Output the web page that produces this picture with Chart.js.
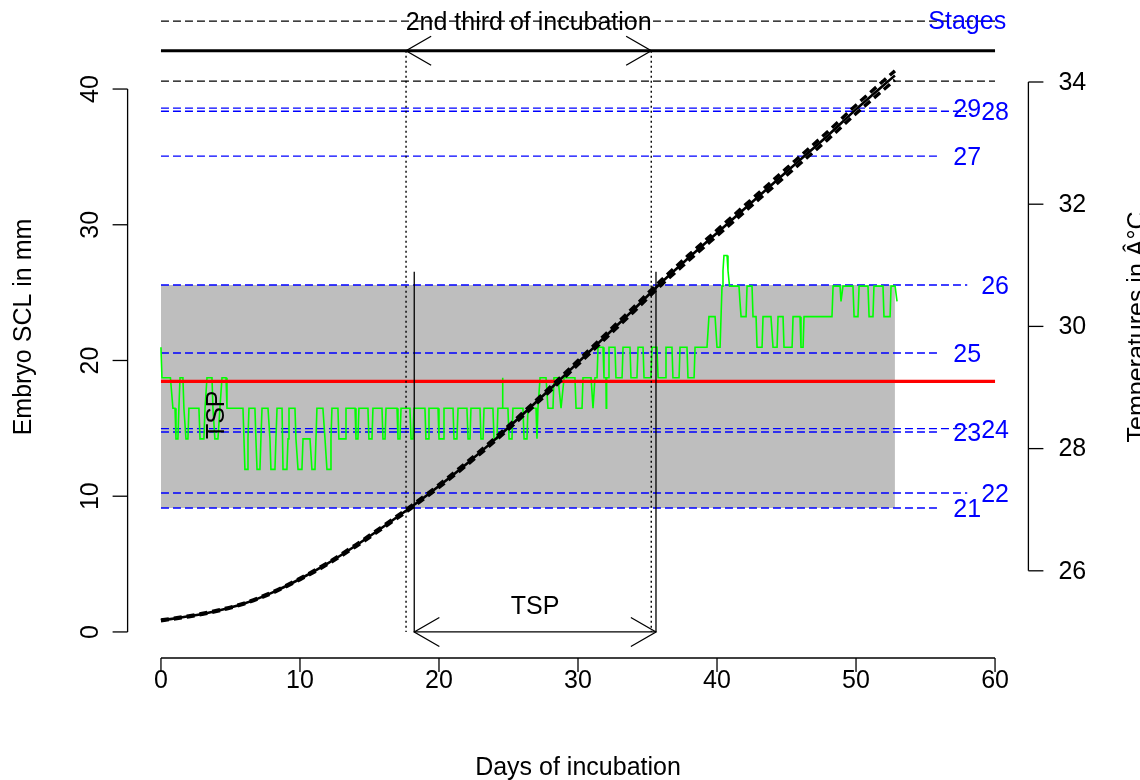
<!DOCTYPE html>
<html><head><meta charset="utf-8">
<script src="https://cdn.jsdelivr.net/npm/chart.js@4.4.0/dist/chart.umd.min.js"></script>
<style>html,body{margin:0;padding:0;background:#fff;}canvas{display:block;}</style>
</head><body>
<canvas id="c" width="1140" height="780" style="width:1140px;height:780px"></canvas>
<script>
// ---------- data ----------
const xTicks = [0, 10, 20, 30, 40, 50, 60];
const sclTicks = [0, 10, 20, 30, 40];
const tempTicks = [26, 28, 30, 32, 34];

const growthDays  = [0, 2, 4, 6, 8, 10, 12, 14, 16, 18, 20, 22, 24, 26, 28, 30, 32, 34, 36, 38, 40, 42, 44, 46, 48, 50, 52, 52.8];
const growthSCL   = [0.85, 1.15, 1.55, 2.1, 2.9, 3.9, 5.05, 6.35, 7.75, 9.2, 10.75, 12.4, 14.15, 16.0, 17.9, 19.85, 21.8, 23.75, 25.75, 27.6, 29.4, 31.2, 33.0, 34.8, 36.6, 38.5, 40.3, 41.0];
const growthUpper = [0.88, 1.18, 1.58, 2.13, 2.94, 3.95, 5.11, 6.42, 7.83, 9.29, 10.85, 12.51, 14.27, 16.13, 18.04, 20.0, 21.96, 23.92, 25.93, 27.8, 29.61, 31.43, 33.25, 35.07, 36.89, 38.81, 40.63, 41.34];
const growthLower = [0.82, 1.12, 1.52, 2.07, 2.86, 3.85, 4.99, 6.28, 7.67, 9.11, 10.65, 12.29, 14.03, 15.87, 17.76, 19.7, 21.64, 23.58, 25.57, 27.4, 29.19, 30.97, 32.75, 34.53, 36.31, 38.19, 39.97, 40.66];

const tempDays = [
 0.00,0.07,0.68,0.86,1.01,1.08,1.22,1.29,1.37,1.58,1.65,1.80,1.94,2.01,2.73,2.81,3.09,3.17,3.31,3.67,3.74,3.88,4.10,4.24,4.39,4.68,4.75,
 5.90,5.97,6.04,6.19,6.26,6.33,6.76,6.83,6.91,7.12,7.19,7.27,7.70,7.84,7.91,8.20,8.27,8.35,8.71,8.78,9.06,9.14,9.21,9.64,9.71,9.86,
 10.14,10.22,10.72,10.86,11.08,11.15,11.22,11.65,11.80,11.94,12.16,12.23,12.30,12.73,12.80,
 13.24,13.31,13.96,14.03,14.17,14.24,14.89,14.96,15.18,15.25,15.90,15.97,16.12,16.19,16.98,17.05,17.19,17.27,17.91,17.99,18.13,18.20,
 18.99,19.06,19.21,19.28,19.93,20.00,20.29,20.36,21.01,21.08,21.29,21.37,22.01,22.09,22.23,22.30,22.95,23.02,23.17,23.24,23.88,23.96,
 24.17,24.24,24.54,24.57,24.60,24.96,25.04,25.25,25.32,26.04,26.12,26.33,26.40,
 26.98,27.05,27.12,27.27,27.70,27.84,28.20,28.27,28.56,28.78,29.00,29.78,29.86,30.29,30.36,30.94,31.08,31.22,31.37,31.44,31.80,31.87,
 32.01,32.03,32.06,32.16,32.23,
 32.66,32.73,33.17,33.24,33.74,33.81,34.24,34.32,34.68,34.75,35.25,35.32,35.68,35.76,36.26,36.33,36.76,36.83,37.27,37.34,37.84,37.91,
 38.35,38.42,39.28,39.42,
 39.86,40.00,40.22,40.36,40.43,40.50,40.72,40.79,40.90,41.58,41.65,41.73,42.09,42.16,42.52,42.59,42.81,42.88,43.24,43.31,43.88,44.03,
 44.32,44.39,44.75,44.82,45.40,45.47,45.97,46.04,46.19,46.26,48.27,48.35,48.85,48.92,48.99,49.06,49.78,49.86,50.14,50.22,50.86,50.94,
 51.22,51.29,51.94,52.01,52.45,52.52,52.81,52.95];
const tempValues = [
 29.66,29.16,29.16,28.66,28.66,28.16,28.16,28.66,29.16,29.16,28.66,28.16,28.16,28.66,28.66,28.16,28.16,28.66,29.16,29.16,28.66,28.16,28.16,28.66,29.16,29.16,28.66,
 28.66,28.16,27.66,27.66,28.16,28.66,28.66,28.16,27.66,27.66,28.16,28.66,28.66,28.16,27.66,27.66,28.16,28.66,28.66,27.66,27.66,28.16,28.66,28.66,28.16,27.66,
 27.66,28.16,28.16,27.66,27.66,28.16,28.66,28.66,28.16,27.66,27.66,28.16,28.66,28.66,28.16,
 28.16,28.66,28.66,28.16,28.16,28.66,28.66,28.16,28.16,28.66,28.66,28.16,28.16,28.66,28.66,28.16,28.16,28.66,28.66,28.16,28.16,28.66,
 28.66,28.16,28.16,28.66,28.66,28.16,28.16,28.66,28.66,28.16,28.16,28.66,28.66,28.16,28.16,28.66,28.66,28.16,28.16,28.66,28.66,28.16,
 28.16,28.66,28.66,29.16,28.66,28.66,28.16,28.16,28.66,28.66,28.16,28.16,28.66,
 28.66,28.16,28.66,29.16,29.16,28.66,28.66,29.16,29.16,28.66,29.16,29.16,28.66,28.66,29.16,29.16,28.66,29.16,29.16,29.66,29.66,29.16,
 29.16,28.66,29.16,29.16,29.66,
 29.66,29.16,29.16,29.66,29.66,29.16,29.16,29.66,29.66,29.16,29.16,29.66,29.66,29.16,29.16,29.66,29.66,29.16,29.16,29.66,29.66,29.16,
 29.16,29.66,29.66,30.16,
 30.16,29.66,29.66,30.66,30.91,31.16,31.16,30.91,30.66,30.66,30.41,30.16,30.16,30.66,30.66,30.16,30.16,29.66,29.66,30.16,30.16,29.66,
 29.66,30.16,30.16,29.66,29.66,30.16,30.16,29.66,29.66,30.16,30.16,30.66,30.66,30.41,30.41,30.66,30.66,30.16,30.16,30.66,30.66,30.16,
 30.16,30.66,30.66,30.16,30.16,30.66,30.66,30.41];

const stageNames = ['21', '22', '23', '24', '25', '26', '27', '28', '29'];
const stageSCL   = [9.13, 10.24, 14.73, 14.98, 20.55, 25.56, 35.06, 38.36, 38.59];

const pivotalTemp = 29.1;
const incubationEnd = 52.8;
const bandSCL = [9.13, 25.56];
const secondThird = [17.63, 35.27];
const tspWindow = [18.22, 35.61];
const tspTopSCL = 26.54;
const stagesHeaderSCL = 45.0;
const incubationBarSCL = 42.82;
const hatchSCL = 40.59;

// ---------- build ----------
const pts = (xs, ys) => xs.map((x, i) => ({x: x, y: ys[i]}));
const seg = (x0, y0, x1, y1) => [{x: x0, y: y0}, {x: x1, y: y1}];
const base = {pointRadius: 0, pointHoverRadius: 0, tension: 0, fill: false, yAxisID: 'y'};
const ds = [];
ds.push(Object.assign({}, base, {data: seg(0, bandSCL[1], incubationEnd, bandSCL[1]), borderWidth: 0, borderColor: 'rgba(0,0,0,0)', backgroundColor: '#BEBEBE', fill: {value: bandSCL[0]}, order: 100}));
stageNames.forEach((s, i) => {
  const odd = parseInt(s, 10) % 2 === 1;
  ds.push(Object.assign({}, base, {data: seg(0, stageSCL[i], odd ? 56 : 58, stageSCL[i]), borderColor: '#0000FF', borderWidth: 1.4, borderDash: [8, 4], order: 90}));
});
ds.push(Object.assign({}, base, {data: seg(0, stagesHeaderSCL, 60, stagesHeaderSCL), borderColor: '#000', borderWidth: 1.3, borderDash: [8, 4], order: 85}));
ds.push(Object.assign({}, base, {data: seg(0, incubationBarSCL, 60, incubationBarSCL), borderColor: '#000', borderWidth: 2.8, order: 85}));
ds.push(Object.assign({}, base, {data: seg(0, hatchSCL, 60, hatchSCL), borderColor: '#000', borderWidth: 1.3, borderDash: [8, 4], order: 85}));
ds.push(Object.assign({}, base, {data: pts(tempDays, tempValues), yAxisID: 'y2', borderColor: '#00FF00', borderWidth: 1.6, order: 60}));
ds.push(Object.assign({}, base, {data: seg(0, pivotalTemp, 60, pivotalTemp), yAxisID: 'y2', borderColor: '#FF0000', borderWidth: 3.4, order: 50}));
secondThird.forEach(d => ds.push(Object.assign({}, base, {data: seg(d, incubationBarSCL, d, 0), borderColor: '#000', borderWidth: 1.4, borderDash: [2, 3], order: 40})));
tspWindow.forEach(d => ds.push(Object.assign({}, base, {data: seg(d, tspTopSCL, d, 0), borderColor: '#000', borderWidth: 1.3, order: 40})));
ds.push(Object.assign({}, base, {data: seg(tspWindow[0], 0, tspWindow[1], 0), borderColor: '#000', borderWidth: 1.3, order: 40}));
ds.push(Object.assign({}, base, {data: pts(growthDays, growthUpper), borderColor: '#000', borderWidth: 3.4, borderDash: [8, 5], cubicInterpolationMode: 'monotone', order: 12}));
ds.push(Object.assign({}, base, {data: pts(growthDays, growthLower), borderColor: '#000', borderWidth: 3.4, borderDash: [8, 5], cubicInterpolationMode: 'monotone', order: 11}));
ds.push(Object.assign({}, base, {data: pts(growthDays, growthSCL), borderColor: '#000', borderWidth: 2.6, cubicInterpolationMode: 'monotone', order: 10}));

const FONT = '25px "Liberation Sans", Arial, sans-serif';

function txt(ctx, s, x, y, opt) {
  opt = opt || {};
  ctx.save();
  ctx.translate(x, y);
  if (opt.rot) ctx.rotate(opt.rot);
  ctx.font = FONT;
  ctx.fillStyle = opt.color || '#000';
  ctx.textAlign = opt.align || 'center';
  ctx.textBaseline = opt.base || 'middle';
  ctx.fillText(s, 0, 0);
  ctx.restore();
}
function head(ctx, tx, ty, dir) {
  const L = 29, a = Math.PI / 6;
  ctx.beginPath();
  ctx.moveTo(tx + dir * L * Math.cos(a), ty - L * Math.sin(a));
  ctx.lineTo(tx, ty);
  ctx.lineTo(tx + dir * L * Math.cos(a), ty + L * Math.sin(a));
  ctx.stroke();
}

const rPlugin = {
  id: 'rDecor',
  afterDraw(chart) {
    const ctx = chart.ctx, xs = chart.scales.x, ys = chart.scales.y, y2 = chart.scales.y2;
    const X = v => xs.getPixelForValue(v), Y = v => ys.getPixelForValue(v), Y2 = v => y2.getPixelForValue(v);
    ctx.save();
    ctx.strokeStyle = '#000'; ctx.lineWidth = 1.3; ctx.setLineDash([]);
    // x axis
    const ay = ys.bottom;
    ctx.beginPath(); ctx.moveTo(X(xTicks[0]), ay); ctx.lineTo(X(xTicks[xTicks.length - 1]), ay); ctx.stroke();
    xTicks.forEach(t => { ctx.beginPath(); ctx.moveTo(X(t), ay); ctx.lineTo(X(t), ay + 14); ctx.stroke(); txt(ctx, String(t), X(t), ay + 30, {base: 'alphabetic'}); });
    txt(ctx, 'Days of incubation', (xs.left + xs.right) / 2, 775, {base: 'alphabetic'});
    // left axis
    const lx = xs.left;
    ctx.beginPath(); ctx.moveTo(lx, Y(sclTicks[0])); ctx.lineTo(lx, Y(sclTicks[sclTicks.length - 1])); ctx.stroke();
    sclTicks.forEach(t => { ctx.beginPath(); ctx.moveTo(lx, Y(t)); ctx.lineTo(lx - 15, Y(t)); ctx.stroke(); txt(ctx, String(t), lx - 30, Y(t), {rot: -Math.PI / 2, base: 'alphabetic'}); });
    txt(ctx, 'Embryo SCL in mm', 31, 327, {rot: -Math.PI / 2, base: 'alphabetic'});
    // right axis
    const rx = xs.right;
    ctx.beginPath(); ctx.moveTo(rx, Y2(tempTicks[0])); ctx.lineTo(rx, Y2(tempTicks[tempTicks.length - 1])); ctx.stroke();
    tempTicks.forEach(t => { ctx.beginPath(); ctx.moveTo(rx, Y2(t)); ctx.lineTo(rx + 15, Y2(t)); ctx.stroke(); txt(ctx, String(t), rx + 30, Y2(t) + 1, {align: 'left'}); });
    txt(ctx, 'Temperatures in Â°C', 1145, 327, {rot: -Math.PI / 2, base: 'alphabetic'});
    // arrows
    const by = Y(incubationBarSCL);
    head(ctx, X(secondThird[0]), by, 1); head(ctx, X(secondThird[1]), by, -1);
    const ty = Y(0);
    head(ctx, X(tspWindow[0]), ty, 1); head(ctx, X(tspWindow[1]), ty, -1);
    // texts
    txt(ctx, '2nd third of incubation', X((secondThird[0] + secondThird[1]) / 2), Y(44.86));
    txt(ctx, 'Stages', X(58), Y(stagesHeaderSCL) + 1, {color: '#0000FF'});
    stageNames.forEach((s, i) => {
      const odd = parseInt(s, 10) % 2 === 1;
      txt(ctx, s, X(odd ? 58 : 60), Y(stageSCL[i]) + 2, {color: '#0000FF'});
    });
    txt(ctx, 'TSP', X((tspWindow[0] + tspWindow[1]) / 2), Y(1.86));
    txt(ctx, 'TSP', X(4.03), Y(16.0), {rot: -Math.PI / 2});
    ctx.restore();
  }
};

new Chart(document.getElementById('c').getContext('2d'), {
  type: 'line',
  data: {datasets: ds},
  options: {
    responsive: false, animation: false, devicePixelRatio: 1,
    layout: {padding: {left: 127.6, right: 111.6, top: 0, bottom: 122}},
    plugins: {legend: {display: false}, tooltip: {enabled: false}},
    scales: {
      x: {type: 'linear', min: -2.4, max: 62.4, display: false},
      y: {type: 'linear', min: -1.92, max: 46.56, display: false},
      y2: {type: 'linear', min: 24.573, max: 35.342, display: false}
    }
  },
  plugins: [rPlugin]
});
</script>
</body></html>
